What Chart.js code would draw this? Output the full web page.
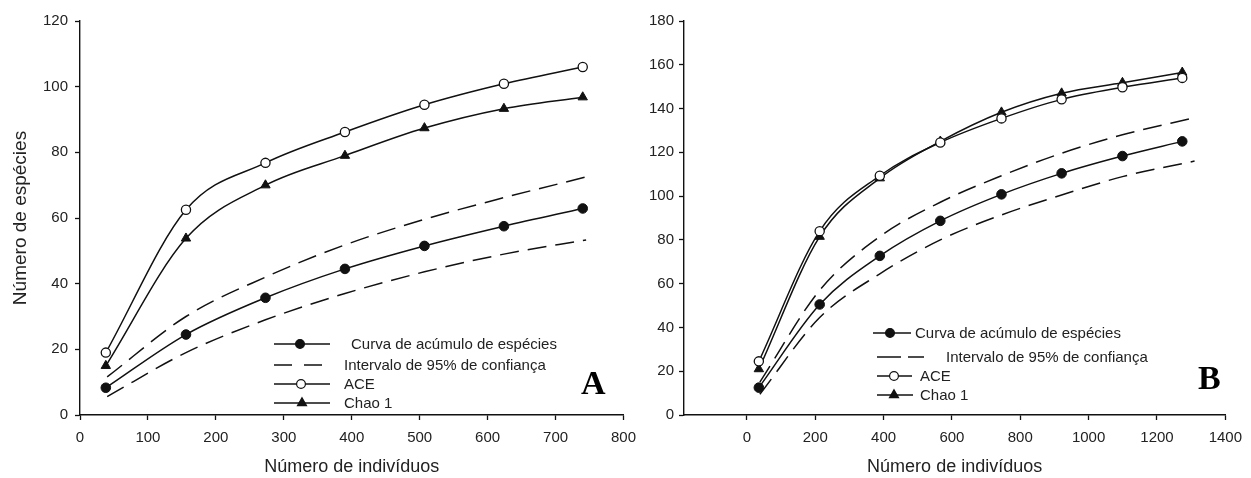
<!DOCTYPE html>
<html>
<head>
<meta charset="utf-8">
<script src="https://cdn.jsdelivr.net/npm/chart.js@4.4.1/dist/chart.umd.min.js"></script>
<style>
  body { margin: 0; background: #fff; }
  #wrap { position: relative; width: 1251px; height: 478px; }
  #boxA { position: absolute; left: 0; top: 0; }
  #boxB { position: absolute; left: 645px; top: 0; }
</style>
</head>
<body>
<div id="wrap">
  <div id="boxA"><canvas id="chartA" width="645" height="478"></canvas></div>
  <div id="boxB"><canvas id="chartB" width="606" height="478"></canvas></div>
</div>
<script>
// Panel A
const X_A = [38, 156, 273, 390, 507, 624, 740];
const CURVA_A = [8.3, 24.5, 35.7, 44.5, 51.5, 57.5, 62.9];
const ACE_A = [19, 62.5, 76.8, 86.2, 94.5, 100.9, 106];
const CHAO_A = [15, 53.8, 70, 79, 87.4, 93.3, 96.8];
const CI_X_A = [40, 156, 273, 390, 507, 624, 745];
const UPPER_A = [11.6, 30, 42, 51.8, 59.6, 66.2, 72.5];
const LOWER_A = [5.6, 19, 29, 37, 43.6, 49, 53.3];
const TICKS_X_A = [0, 100, 200, 300, 400, 500, 600, 700, 800];

// Panel B
const X_B = [35, 213, 389, 566, 745, 921, 1099, 1274];
const CURVA_B = [12.5, 50.5, 72.7, 88.7, 100.8, 110.4, 118.3, 125];
const ACE_B = [24.5, 84, 109.3, 124.5, 135.5, 144.2, 149.7, 154];
const CHAO_B = [21, 81.5, 108.2, 125, 138.3, 147, 151.8, 156.5];
const CI_X_B = [38, 213, 389, 566, 745, 921, 1099, 1310];
const UPPER_B = [15, 57, 81.5, 97.2, 109.3, 119.6, 128, 135.8];
const LOWER_B = [9.5, 44.5, 64.5, 80, 91.4, 100.5, 108.9, 116];
const TICKS_X_B = [0, 200, 400, 600, 800, 1000, 1200, 1400];

const LEGEND_LABELS = [
  "Curva de acúmulo de espécies",
  "Intervalo de 95% de confiança",
  "ACE",
  "Chao 1",
];
const X_TITLE = "Número de indivíduos";
const Y_TITLE = "Número de espécies";

const INK = "#111";
const TEXT = "#222";
const SANS = '"Liberation Sans", Arial, sans-serif';
const DASH = [19, 9];
const LINE_W = 1.5;

const toPoints = (xs, ys) => xs.map((x, i) => ({ x, y: ys[i] }));

function buildDatasets(cx, upper, lower, xs, curva, ace, chao) {
  const base = {
    borderColor: INK,
    borderWidth: LINE_W,
    fill: false,
    cubicInterpolationMode: "monotone",
  };
  return [
    { ...base, data: toPoints(cx, upper), borderDash: DASH, pointRadius: 0 },
    { ...base, data: toPoints(cx, lower), borderDash: DASH, pointRadius: 0 },
    {
      ...base,
      data: toPoints(xs, curva),
      pointStyle: "circle",
      pointRadius: 4.8,
      pointBackgroundColor: INK,
      pointBorderColor: INK,
      pointBorderWidth: 1,
    },
    {
      ...base,
      data: toPoints(xs, ace),
      pointStyle: "circle",
      pointRadius: 4.6,
      pointBackgroundColor: "#fff",
      pointBorderColor: INK,
      pointBorderWidth: 1.3,
    },
    {
      ...base,
      data: toPoints(xs, chao),
      pointStyle: "triangle",
      pointRadius: 5.4,
      pointBackgroundColor: INK,
      pointBorderColor: INK,
      pointBorderWidth: 1,
    },
  ];
}

// legend + panel letter drawn on the canvas
const panelLegend = {
  id: "panelLegend",
  afterDraw(chart, args, opts) {
    const ctx = chart.ctx;
    ctx.save();
    ctx.strokeStyle = INK;
    ctx.lineWidth = LINE_W;
    ctx.font = "15px " + SANS;
    ctx.textBaseline = "middle";
    ctx.textAlign = "left";

    opts.rows.forEach((row, i) => {
      ctx.setLineDash(i === 1 ? opts.dash : []);
      ctx.beginPath();
      ctx.moveTo(row.x0, row.y);
      ctx.lineTo(row.x1, row.y);
      ctx.stroke();
      ctx.setLineDash([]);

      if (i !== 1) {
        const style = i === 3 ? "triangle" : "circle";
        ctx.fillStyle = i === 2 ? "#fff" : INK;
        ctx.lineWidth = 1.2;
        Chart.helpers.drawPoint(
          ctx,
          { pointStyle: style, radius: i === 3 ? 5.2 : 4.4, rotation: 0, borderWidth: 1.2 },
          row.mx,
          row.y
        );
        ctx.lineWidth = LINE_W;
      }

      ctx.fillStyle = TEXT;
      ctx.fillText(LEGEND_LABELS[i], row.tx, row.y + 1);
    });

    ctx.fillStyle = "#000";
    ctx.font = 'bold 34px "Liberation Serif", "Times New Roman", serif';
    ctx.textBaseline = "alphabetic";
    ctx.fillText(opts.letter, opts.letterX, opts.letterY);
    ctx.restore();
  },
};

function axisX(min, max, ticks, height) {
  return {
    type: "linear",
    min,
    max,
    afterBuildTicks: (s) => {
      s.ticks = ticks.map((v) => ({ value: v }));
    },
    afterFit: (s) => {
      s.height = height;
    },
    ticks: {
      color: TEXT,
      font: { size: 15, family: SANS },
      padding: 9,
      maxRotation: 0,
      callback: (v) => String(v),
    },
    grid: { drawOnChartArea: false, tickLength: 5, color: INK, tickWidth: 1.3 },
    border: { color: INK, width: 1.4 },
    title: {
      display: true,
      text: X_TITLE,
      color: TEXT,
      font: { size: 18, family: SANS },
      padding: { top: 0, bottom: 0 },
    },
  };
}

function axisY(max, width, pad, showTitle) {
  return {
    min: 0,
    max,
    afterFit: (s) => {
      s.width = width;
    },
    ticks: {
      stepSize: 20,
      color: TEXT,
      font: { size: 15, family: SANS },
      padding: pad,
      callback: (v) => String(v),
    },
    grid: { drawOnChartArea: false, tickLength: 5, color: INK, tickWidth: 1.3 },
    border: { color: INK, width: 1.4 },
    title: {
      display: showTitle,
      text: Y_TITLE,
      color: TEXT,
      font: { size: 19, family: SANS },
      padding: { top: 9, bottom: 0 },
    },
  };
}

function makeChart(id, datasets, scales, padding, legendOpts) {
  return new Chart(document.getElementById(id), {
    type: "line",
    data: { datasets },
    options: {
      responsive: false,
      animation: false,
      devicePixelRatio: 1,
      layout: { padding },
      scales,
      plugins: {
        legend: { display: false },
        tooltip: { enabled: false },
        panelLegend: legendOpts,
      },
    },
    plugins: [panelLegend],
  });
}

makeChart(
  "chartA",
  buildDatasets(CI_X_A, UPPER_A, LOWER_A, X_A, CURVA_A, ACE_A, CHAO_A),
  { x: axisX(0, 800, TICKS_X_A, 63), y: axisY(120, 80, 7, true) },
  { top: 21, right: 16, left: 0, bottom: 0 },
  {
    dash: [18, 12],
    rows: [
      { y: 344, x0: 274, x1: 330, mx: 300, tx: 351 },
      { y: 365, x0: 274, x1: 323, mx: 0, tx: 344 },
      { y: 384, x0: 274, x1: 330, mx: 301, tx: 344 },
      { y: 403, x0: 274, x1: 330, mx: 302, tx: 344 },
    ],
    letter: "A",
    letterX: 581,
    letterY: 394,
  }
);

makeChart(
  "chartB",
  buildDatasets(CI_X_B, UPPER_B, LOWER_B, X_B, CURVA_B, ACE_B, CHAO_B),
  { x: axisX(-184, 1400, TICKS_X_B, 63), y: axisY(180, 39, 5, false) },
  { top: 21, right: 18, left: 0, bottom: 0 },
  {
    dash: [24, 7],
    rows: [
      { y: 333, x0: 228, x1: 266, mx: 245, tx: 270 },
      { y: 357, x0: 232, x1: 279, mx: 0, tx: 301 },
      { y: 376, x0: 232, x1: 267, mx: 249, tx: 275 },
      { y: 395, x0: 232, x1: 268, mx: 249, tx: 275 },
    ],
    letter: "B",
    letterX: 553,
    letterY: 389,
  }
);
</script>
</body>
</html>
